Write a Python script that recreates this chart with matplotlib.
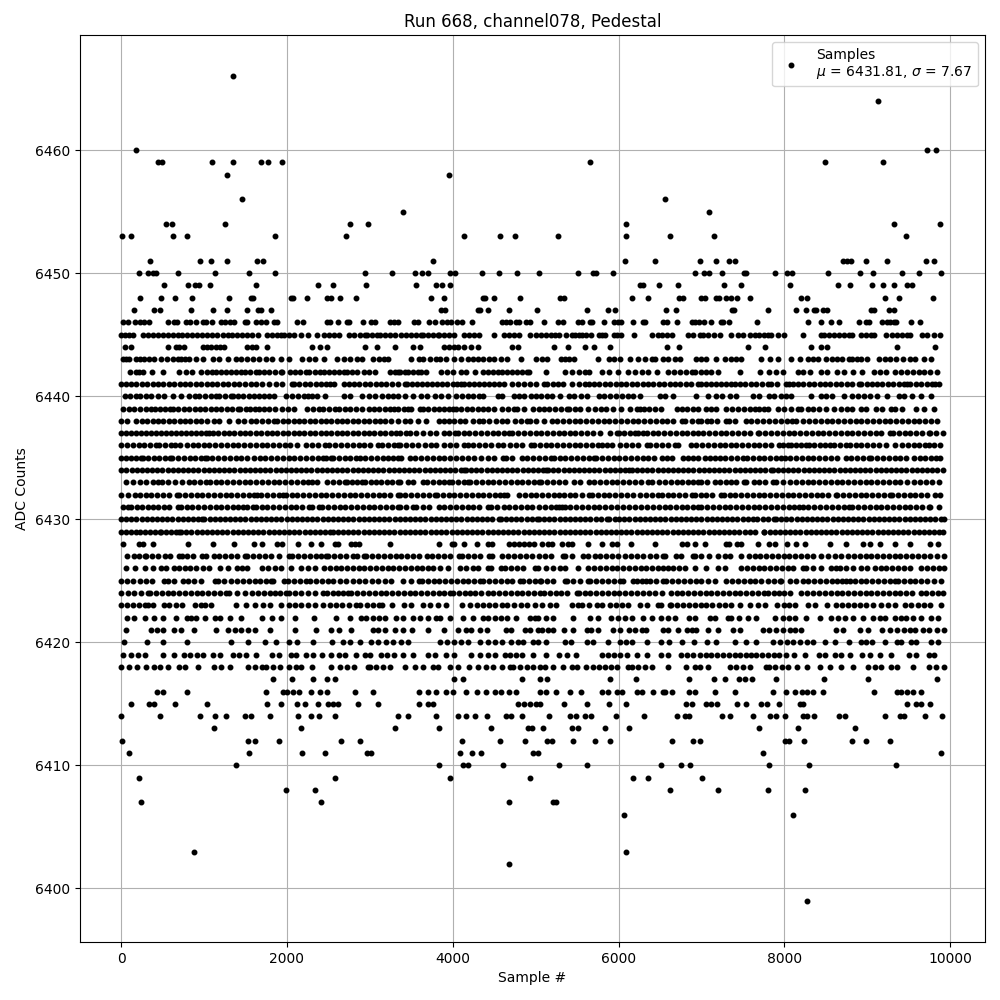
import numpy as np
import matplotlib.pyplot as plt

# sample numbers, one list per ADC level
s6466 = [1350]
s6464 = [9135]
s6460 = [177, 9723, 9831]
s6459 = [440, 490, 1095, 1350, 1685, 1770, 1940, 5650, 8494, 9193]
s6458 = [1275, 3955]
s6456 = [1457, 6566]
s6455 = [3400, 7096]
s6454 = [540, 612, 1250, 2760, 2980, 6084, 9325, 9880]
s6453 = [10, 115, 625, 795, 1855, 2710, 4135, 4570, 4750, 5265, 6084, 6626, 7157, 9470]
s6451 = [345, 950, 1080, 1275, 1640, 1710, 3760, 6072, 6434, 6988, 7181, 7337, 7410, 8710, 8760, 8807, 8988, 9241, 9711, 9807]
s6450 = [213, 322, 382, 415, 684, 1130, 1540, 1855, 2940, 3266, 3545, 3630, 3700, 3966, 4030, 4355, 4560, 4775, 5040, 5506, 5695, 5725, 5928, 6927, 7036, 7096, 7253, 7518, 7540, 7890, 8036, 8096, 8530, 8915, 9072, 9422, 9626, 9892]
s6449 = [515, 805, 890, 938, 1070, 1625, 2375, 2555, 2955, 3555, 3800, 3870, 3966, 6253, 6300, 6482, 6723, 7277, 7482, 8072, 8650, 8795, 9060, 9193, 9325, 9482, 9542]
s6448 = [225, 480, 648, 853, 1300, 1565, 1590, 2050, 2070, 2240, 2480, 2530, 2640, 2830, 3740, 3895, 4365, 4390, 4500, 4810, 5290, 5337, 6168, 6350, 6735, 6783, 7000, 7048, 7170, 7217, 7300, 7360, 7434, 7590, 8205, 8277, 9217, 9385, 9795]
s6447 = [153, 395, 467, 840, 1105, 1275, 1517, 1650, 1685, 1805, 3860, 3905, 4305, 4330, 4425, 4680, 5015, 5615, 5867, 5952, 6578, 6687, 7373, 7397, 7807, 8145, 8265, 8362, 8386, 8470, 8510, 9048, 9084, 9265, 9325]
s6446 = [20, 80, 165, 225, 275, 335, 565, 640, 675, 785, 830, 905, 990, 1025, 1095, 1205, 1250, 1310, 1360, 1490, 1515, 1625, 1685, 1750, 1845, 1880, 2120, 2195, 2485, 2520, 2615, 2725, 2750, 2920, 3015, 3060, 3245, 3295, 3340, 3530, 3580, 3715, 3785, 3870, 3930, 3980, 4055, 4115, 4235, 4595, 4645, 4695, 4765, 4800, 4885, 4935, 5095, 5265, 5335, 5505, 5555, 5650, 5685, 5830, 5950, 5990, 6035, 6170, 6300, 6325, 6540, 6590, 6710, 6890, 6925, 6975, 7035, 7110, 7230, 7265, 7335, 7675, 8290, 8445, 8565, 8665, 8905, 8990, 9025, 9180, 9240, 9280, 9325, 9350, 9530, 9640]
s6445 = [0, 50, 100, 145, 265, 320, 380, 440, 500, 560, 620, 680, 740, 800, 860, 920, 980, 1040, 1100, 1160, 1225, 1285, 1340, 1400, 1460, 1520, 1580, 1655, 1765, 1820, 1880, 1925, 1965, 2030, 2090, 2165, 2250, 2365, 2445, 2505, 2565, 2625, 2745, 2810, 2880, 2945, 2965, 3025, 3085, 3125, 3185, 3245, 3305, 3380, 3440, 3500, 3560, 3620, 3640, 3700, 3760, 3820, 3840, 3900, 3960, 4020, 4140, 4200, 4260, 4320, 4500, 4620, 4680, 4740, 4800, 4930, 5010, 5060, 5120, 5180, 5230, 5280, 5370, 5440, 5480, 5520, 5560, 5610, 5670, 5760, 5800, 5840, 5940, 5985, 6030, 6190, 6400, 6480, 6530, 6590, 6640, 6840, 6900, 6980, 7020, 7080, 7150, 7220, 7360, 7440, 7500, 7580, 7640, 7700, 7760, 7800, 7840, 7920, 8000, 8224, 8440, 8480, 8540, 8600, 8660, 8720, 8780, 8820, 8920, 8980, 9040, 9080, 9220, 9300, 9360, 9420, 9480, 9520, 9660, 9720, 9808, 9880]
s6444 = [44, 124, 565, 656, 704, 764, 984, 1032, 1084, 1144, 1192, 1244, 1524, 1576, 1624, 1764, 2304, 2404, 2484, 2944, 3084, 3304, 3520, 3600, 3900, 3960, 4020, 4060, 4140, 4220, 4300, 4720, 4790, 5224, 5392, 5592, 5704, 5896, 6580, 6728, 7560, 7768, 8320, 8440, 8512, 9360, 9820]
s6443 = [24, 60, 100, 184, 224, 280, 340, 396, 484, 550, 620, 684, 724, 776, 816, 904, 984, 1104, 1176, 1284, 1384, 1444, 1524, 1595, 1664, 1744, 1824, 1924, 2024, 2184, 2264, 2344, 2444, 2604, 2684, 2764, 2844, 2904, 3044, 3110, 3170, 3224, 3500, 3590, 3640, 3720, 3800, 3848, 3920, 4012, 4100, 4180, 4240, 4300, 4360, 4440, 4500, 4580, 4660, 4820, 5000, 5072, 5140, 5300, 5360, 5408, 5468, 5752, 5880, 5940, 6020, 6140, 6232, 6320, 6400, 6440, 6532, 6600, 6680, 6740, 6940, 7000, 7060, 7180, 7280, 7352, 7420, 7480, 7720, 7832, 7928, 8080, 8192, 8288, 8340, 8400, 8500, 8580, 8640, 8700, 8780, 8820, 8880, 8920, 9000, 9140, 9208, 9280, 9352, 9432, 9520, 9580, 9688, 9772]
s6442 = [104, 176, 220, 264, 372, 504, 704, 780, 856, 964, 1030, 1096, 1144, 1200, 1260, 1320, 1380, 1440, 1500, 1560, 1624, 1664, 1724, 1784, 1850, 1924, 1944, 2032, 2095, 2160, 2224, 2264, 2335, 2404, 2444, 2505, 2565, 2625, 2684, 2724, 2784, 2844, 2924, 2992, 3064, 3244, 3300, 3344, 3360, 3420, 3460, 3520, 3580, 3620, 3680, 3860, 3930, 4000, 4100, 4160, 4268, 4360, 4420, 4480, 4540, 4600, 4660, 4720, 4780, 4840, 4900, 4920, 5120, 5360, 5440, 5520, 5592, 5648, 5800, 5880, 5992, 6112, 6200, 6280, 6360, 6460, 6600, 6670, 6740, 6810, 6880, 6920, 7000, 7060, 7120, 7200, 7468, 7712, 7820, 7900, 7980, 8160, 8220, 8308, 8448, 8520, 8640, 8720, 8832, 8932, 9080, 9150, 9220, 9340, 9410, 9480, 9550, 9620, 9690, 9760, 9840]
s6441 = [0, 60, 124, 184, 250, 315, 380, 445, 510, 575, 640, 705, 770, 835, 900, 965, 1030, 1095, 1160, 1225, 1290, 1364, 1424, 1495, 1565, 1632, 1704, 1780, 1864, 1936, 2056, 2084, 2150, 2215, 2280, 2345, 2410, 2470, 2524, 2564, 2684, 2744, 2810, 2875, 2940, 3005, 3070, 3135, 3200, 3265, 3344, 3420, 3448, 3510, 3570, 3630, 3690, 3750, 3810, 3870, 3930, 4000, 4048, 4100, 4140, 4200, 4260, 4320, 4380, 4440, 4500, 4560, 4620, 4712, 4792, 4860, 4930, 5000, 5100, 5132, 5208, 5270, 5330, 5440, 5520, 5600, 5640, 5705, 5770, 5835, 5900, 5965, 6030, 6095, 6160, 6225, 6290, 6355, 6420, 6485, 6550, 6615, 6680, 6745, 6810, 6875, 6960, 7000, 7060, 7120, 7180, 7240, 7300, 7360, 7400, 7465, 7530, 7600, 7660, 7730, 7800, 7840, 7910, 8020, 8060, 8100, 8165, 8230, 8295, 8360, 8425, 8490, 8555, 8620, 8685, 8750, 8820, 8900, 8928, 8995, 9060, 9120, 9180, 9248, 9310, 9380, 9440, 9480, 9520, 9585, 9650, 9720, 9780, 9820, 9860]
s6440 = [44, 110, 184, 224, 295, 365, 440, 512, 624, 724, 824, 896, 944, 1010, 1080, 1144, 1184, 1255, 1324, 1344, 1410, 1475, 1540, 1604, 1664, 1725, 1784, 1844, 1992, 2060, 2130, 2200, 2250, 2304, 2364, 2464, 2684, 2764, 2904, 2992, 3064, 3145, 3224, 3284, 3344, 3430, 3520, 3620, 3692, 3780, 3860, 3948, 4040, 4110, 4180, 4250, 4320, 4360, 4540, 4600, 4740, 4800, 4860, 4940, 5000, 5070, 5140, 5200, 5288, 5400, 5460, 5552, 5620, 5760, 5830, 5900, 5970, 6040, 6110, 6180, 6260, 6500, 6560, 6652, 6940, 7080, 7180, 7250, 7340, 7420, 7620, 7700, 7820, 7880, 7960, 8020, 8080, 8320, 8440, 8500, 8580, 8720, 8820, 8890, 8960, 9030, 9120, 9240, 9380, 9440, 9540, 9652, 9772]
s6439 = [24, 96, 160, 225, 295, 364, 404, 465, 525, 584, 624, 690, 755, 820, 885, 950, 1015, 1080, 1145, 1210, 1275, 1340, 1404, 1432, 1504, 1552, 1610, 1664, 1724, 1784, 1860, 1935, 2010, 2084, 2244, 2315, 2384, 2432, 2510, 2584, 2624, 2695, 2765, 2835, 2904, 2984, 3050, 3115, 3184, 3244, 3295, 3344, 3410, 3460, 3500, 3600, 3640, 3705, 3770, 3835, 3900, 3960, 4000, 4040, 4105, 4170, 4235, 4300, 4365, 4430, 4500, 4592, 4665, 4740, 4780, 4860, 4968, 5035, 5100, 5165, 5230, 5300, 5380, 5400, 5470, 5540, 5632, 5720, 5785, 5850, 5930, 6032, 6140, 6220, 6260, 6312, 6368, 6440, 6512, 6700, 6760, 6830, 6900, 6960, 7060, 7120, 7180, 7300, 7370, 7440, 7510, 7580, 7640, 7700, 7752, 7808, 7920, 8000, 8080, 8160, 8200, 8280, 8350, 8420, 8500, 8600, 8680, 8750, 8820, 8920, 8988, 9100, 9180, 9288, 9340, 9420, 9592, 9680, 9800]
s6438 = [4, 76, 184, 250, 315, 380, 445, 510, 575, 640, 705, 770, 835, 900, 965, 1030, 1124, 1184, 1304, 1404, 1480, 1564, 1632, 1700, 1770, 1844, 1884, 1950, 2015, 2080, 2145, 2210, 2275, 2340, 2405, 2470, 2535, 2600, 2665, 2730, 2795, 2860, 2925, 2990, 3060, 3124, 3184, 3260, 3344, 3420, 3480, 3580, 3680, 3840, 3900, 3952, 4020, 4085, 4150, 4240, 4312, 4368, 4440, 4520, 4590, 4660, 4748, 4820, 4900, 4928, 5000, 5100, 5192, 5260, 5330, 5400, 5470, 5540, 5610, 5680, 5750, 5820, 5890, 5960, 6030, 6100, 6170, 6240, 6310, 6380, 6450, 6520, 6590, 6660, 6760, 6800, 6880, 6960, 7000, 7072, 7120, 7190, 7300, 7328, 7400, 7540, 7600, 7670, 7740, 7820, 7890, 7960, 8032, 8090, 8140, 8220, 8300, 8370, 8440, 8512, 8580, 8650, 8720, 8790, 8860, 8930, 9000, 9070, 9140, 9210, 9280, 9350, 9420, 9490, 9560, 9630, 9700, 9770, 9840]
s6437 = [0, 60, 120, 180, 240, 300, 360, 420, 480, 540, 600, 660, 720, 780, 840, 900, 960, 1020, 1064, 1104, 1170, 1235, 1300, 1365, 1430, 1495, 1560, 1625, 1690, 1755, 1820, 1885, 1950, 2015, 2080, 2145, 2210, 2275, 2340, 2405, 2470, 2535, 2600, 2665, 2730, 2795, 2860, 2925, 2990, 3055, 3120, 3185, 3250, 3315, 3360, 3440, 3480, 3560, 3640, 3720, 3800, 3900, 3960, 4032, 4060, 4130, 4200, 4270, 4340, 4410, 4480, 4550, 4620, 4680, 4720, 4790, 4860, 4930, 5000, 5070, 5140, 5210, 5280, 5340, 5410, 5480, 5550, 5620, 5690, 5780, 5900, 5980, 6000, 6070, 6140, 6200, 6240, 6300, 6340, 6410, 6480, 6550, 6620, 6690, 6760, 6830, 6900, 6960, 7020, 7090, 7160, 7230, 7300, 7370, 7440, 7510, 7580, 7680, 7700, 7770, 7840, 7910, 7980, 8050, 8120, 8190, 8260, 8330, 8400, 8470, 8540, 8610, 8680, 8750, 8820, 8890, 8960, 9030, 9100, 9170, 9280, 9312, 9380, 9450, 9520, 9590, 9660, 9740, 9760, 9830, 9915]
s6436 = [0, 70, 140, 210, 280, 350, 416, 456, 530, 604, 644, 715, 790, 864, 924, 995, 1065, 1135, 1205, 1275, 1345, 1415, 1485, 1555, 1625, 1695, 1765, 1835, 1905, 1975, 2032, 2124, 2224, 2300, 2380, 2464, 2512, 2585, 2655, 2725, 2795, 2865, 2935, 3005, 3104, 3152, 3220, 3290, 3344, 3360, 3435, 3510, 3585, 3660, 3740, 3792, 3900, 3970, 4040, 4140, 4180, 4250, 4320, 4390, 4460, 4540, 4608, 4692, 4760, 4840, 4940, 4980, 5050, 5120, 5190, 5260, 5330, 5400, 5470, 5540, 5610, 5680, 5750, 5800, 5860, 5920, 6020, 6090, 6160, 6230, 6340, 6380, 6450, 6520, 6600, 6680, 6720, 6872, 6940, 7010, 7080, 7150, 7220, 7290, 7352, 7420, 7490, 7560, 7630, 7700, 7770, 7840, 7940, 7980, 8040, 8080, 8140, 8200, 8260, 8292, 8360, 8430, 8490, 8552, 8600, 8670, 8740, 8792, 8868, 8928, 9000, 9070, 9140, 9220, 9340, 9420, 9490, 9560, 9630, 9700, 9740, 9810, 9880]
s6435 = [0, 60, 120, 180, 244, 264, 330, 395, 460, 525, 584, 616, 685, 755, 825, 895, 960, 1016, 1032, 1100, 1170, 1240, 1310, 1380, 1450, 1520, 1604, 1672, 1740, 1810, 1880, 1950, 2020, 2090, 2160, 2230, 2300, 2370, 2440, 2470, 2536, 2556, 2625, 2695, 2765, 2830, 2884, 2944, 3015, 3085, 3155, 3225, 3285, 3344, 3380, 3480, 3550, 3620, 3690, 3760, 3830, 3900, 3970, 4040, 4110, 4180, 4260, 4340, 4420, 4500, 4608, 4648, 4720, 4832, 4900, 4970, 5040, 5110, 5180, 5220, 5290, 5360, 5430, 5500, 5570, 5640, 5700, 5728, 5800, 5870, 5940, 6010, 6080, 6150, 6220, 6290, 6360, 6430, 6520, 6580, 6650, 6780, 6840, 6900, 6960, 7040, 7100, 7160, 7220, 7290, 7360, 7430, 7500, 7552, 7620, 7690, 7760, 7830, 7900, 7960, 8008, 8072, 8140, 8210, 8280, 8350, 8420, 8490, 8560, 8632, 8740, 8808, 8880, 8950, 9020, 9048, 9120, 9190, 9260, 9330, 9400, 9470, 9568, 9632, 9700, 9770, 9830, 9880]
s6434 = [4, 64, 126, 188, 250, 312, 374, 436, 498, 560, 622, 684, 746, 808, 870, 932, 994, 1056, 1118, 1180, 1242, 1304, 1366, 1428, 1490, 1552, 1614, 1676, 1738, 1800, 1862, 1924, 1986, 2048, 2110, 2172, 2234, 2296, 2358, 2420, 2482, 2544, 2606, 2668, 2730, 2792, 2854, 2916, 2978, 3040, 3102, 3164, 3226, 3288, 3350, 3412, 3474, 3536, 3598, 3660, 3722, 3784, 3846, 3908, 3970, 4032, 4094, 4140, 4160, 4222, 4284, 4346, 4408, 4470, 4532, 4594, 4656, 4718, 4780, 4842, 4904, 4966, 5028, 5090, 5120, 5150, 5212, 5274, 5336, 5398, 5460, 5522, 5584, 5646, 5708, 5770, 5832, 5894, 5956, 6018, 6080, 6120, 6160, 6222, 6284, 6346, 6408, 6470, 6532, 6594, 6656, 6718, 6780, 6842, 6904, 6966, 7028, 7090, 7152, 7214, 7276, 7338, 7400, 7462, 7524, 7586, 7648, 7710, 7772, 7840, 7860, 7922, 7984, 8046, 8108, 8170, 8232, 8294, 8356, 8418, 8480, 8542, 8604, 8666, 8728, 8790, 8852, 8914, 8976, 9038, 9100, 9162, 9224, 9286, 9348, 9410, 9472, 9534, 9596, 9658, 9720, 9782, 9844, 9915]
s6433 = [64, 145, 225, 304, 384, 440, 496, 564, 650, 735, 824, 884, 955, 1024, 1072, 1140, 1210, 1280, 1350, 1420, 1490, 1560, 1630, 1700, 1770, 1840, 1910, 1980, 2050, 2120, 2190, 2250, 2304, 2364, 2484, 2555, 2625, 2696, 2724, 2785, 2845, 2904, 2944, 3010, 3075, 3140, 3205, 3270, 3344, 3360, 3460, 3520, 3640, 3688, 3760, 3830, 3900, 3960, 3992, 4060, 4130, 4180, 4208, 4280, 4350, 4420, 4490, 4560, 4630, 4700, 4770, 4840, 4910, 4980, 5040, 5068, 5140, 5210, 5280, 5360, 5460, 5540, 5648, 5704, 5775, 5845, 5915, 5985, 6055, 6125, 6200, 6270, 6352, 6400, 6492, 6560, 6630, 6700, 6770, 6840, 6900, 6960, 7000, 7070, 7160, 7220, 7300, 7352, 7420, 7512, 7540, 7632, 7700, 7770, 7860, 7900, 7980, 8072, 8140, 8210, 8280, 8350, 8420, 8490, 8560, 8630, 8700, 8770, 8840, 8910, 8980, 9050, 9120, 9190, 9260, 9330, 9400, 9480, 9568, 9640, 9710, 9780, 9860]
s6432 = [4, 80, 164, 224, 296, 365, 435, 505, 575, 672, 704, 770, 840, 910, 980, 1050, 1120, 1190, 1260, 1330, 1400, 1470, 1540, 1600, 1644, 1684, 1760, 1830, 1900, 1952, 1984, 2055, 2125, 2195, 2265, 2335, 2405, 2475, 2545, 2615, 2685, 2755, 2825, 2895, 2965, 3035, 3105, 3175, 3245, 3344, 3360, 3430, 3500, 3570, 3640, 3710, 3780, 3808, 3880, 3950, 4020, 4090, 4160, 4230, 4300, 4370, 4440, 4510, 4570, 4620, 4660, 4800, 4872, 4940, 5010, 5080, 5150, 5220, 5280, 5340, 5410, 5480, 5560, 5640, 5680, 5750, 5820, 5890, 5960, 6030, 6100, 6180, 6260, 6330, 6400, 6470, 6530, 6600, 6660, 6730, 6800, 6880, 6920, 6990, 7060, 7130, 7240, 7272, 7340, 7410, 7480, 7550, 7620, 7690, 7760, 7830, 7900, 7970, 8040, 8110, 8180, 8250, 8320, 8390, 8460, 8530, 8620, 8640, 8710, 8780, 8850, 8920, 8990, 9060, 9130, 9200, 9280, 9300, 9370, 9440, 9510, 9580, 9650, 9720, 9820, 9880]
s6431 = [24, 84, 124, 190, 255, 320, 385, 450, 515, 580, 684, 724, 790, 860, 924, 1004, 1070, 1140, 1210, 1280, 1350, 1410, 1464, 1524, 1592, 1624, 1695, 1765, 1835, 1905, 1975, 2045, 2115, 2185, 2264, 2304, 2384, 2424, 2495, 2565, 2635, 2705, 2775, 2845, 2915, 2985, 3055, 3125, 3195, 3265, 3344, 3360, 3440, 3520, 3560, 3640, 3710, 3840, 3900, 3970, 4040, 4110, 4180, 4250, 4320, 4420, 4460, 4530, 4620, 4680, 4750, 4820, 4890, 4960, 5040, 5110, 5180, 5240, 5280, 5320, 5352, 5420, 5490, 5560, 5630, 5700, 5770, 5840, 5910, 5980, 6050, 6120, 6200, 6270, 6340, 6420, 6490, 6560, 6620, 6690, 6760, 6830, 6900, 6960, 7000, 7070, 7140, 7210, 7280, 7350, 7420, 7490, 7560, 7630, 7700, 7770, 7840, 7910, 7980, 8050, 8120, 8180, 8220, 8290, 8360, 8430, 8500, 8580, 8650, 8720, 8780, 8820, 8890, 8960, 9030, 9100, 9170, 9240, 9310, 9380, 9450, 9520, 9590, 9660, 9740, 9760, 9860]
s6430 = [0, 60, 122, 184, 246, 308, 370, 432, 494, 556, 618, 680, 742, 804, 866, 928, 976, 1004, 1066, 1128, 1190, 1252, 1314, 1376, 1438, 1500, 1562, 1624, 1686, 1748, 1810, 1872, 1934, 1996, 2058, 2120, 2182, 2244, 2306, 2368, 2430, 2492, 2554, 2616, 2678, 2740, 2802, 2864, 2926, 2988, 3050, 3112, 3174, 3236, 3298, 3360, 3422, 3484, 3546, 3608, 3670, 3732, 3794, 3856, 3918, 3980, 4042, 4104, 4166, 4228, 4290, 4352, 4414, 4476, 4552, 4580, 4642, 4704, 4766, 4828, 4890, 4952, 5012, 5040, 5102, 5164, 5226, 5288, 5350, 5412, 5474, 5536, 5598, 5660, 5722, 5784, 5860, 5888, 5960, 6008, 6070, 6132, 6194, 6256, 6318, 6380, 6442, 6504, 6566, 6628, 6690, 6752, 6814, 6876, 6938, 7000, 7062, 7124, 7186, 7248, 7310, 7372, 7434, 7496, 7558, 7620, 7672, 7740, 7800, 7880, 7900, 7962, 8024, 8086, 8148, 8210, 8272, 8334, 8396, 8458, 8520, 8582, 8644, 8706, 8768, 8830, 8892, 8954, 9016, 9078, 9140, 9202, 9264, 9326, 9388, 9450, 9512, 9574, 9636, 9698, 9760, 9822, 9884, 9920]
s6429 = [0, 58, 116, 174, 232, 290, 348, 406, 464, 484, 544, 604, 664, 704, 724, 786, 848, 910, 972, 1034, 1096, 1158, 1220, 1282, 1344, 1406, 1468, 1530, 1592, 1654, 1716, 1778, 1840, 1902, 1964, 2026, 2088, 2150, 2212, 2274, 2336, 2398, 2460, 2524, 2552, 2614, 2676, 2738, 2800, 2862, 2924, 2986, 3048, 3110, 3172, 3234, 3296, 3360, 3422, 3484, 3546, 3608, 3670, 3740, 3800, 3862, 3924, 3986, 4048, 4110, 4172, 4234, 4296, 4358, 4420, 4482, 4544, 4606, 4668, 4730, 4792, 4854, 4916, 4978, 5040, 5102, 5164, 5226, 5288, 5350, 5412, 5474, 5536, 5598, 5660, 5722, 5784, 5846, 5908, 5970, 6032, 6094, 6156, 6218, 6280, 6342, 6404, 6466, 6528, 6590, 6652, 6714, 6776, 6838, 6900, 6962, 7024, 7086, 7148, 7210, 7272, 7334, 7396, 7458, 7520, 7582, 7644, 7752, 7760, 7822, 7884, 7946, 8008, 8070, 8132, 8194, 8256, 8318, 8380, 8442, 8504, 8566, 8628, 8690, 8752, 8814, 8876, 8938, 9000, 9062, 9124, 9186, 9248, 9310, 9372, 9434, 9496, 9558, 9620, 9682, 9744, 9806, 9868, 9915]
s6428 = [20, 213, 262, 382, 805, 1107, 1356, 1601, 1698, 1880, 1944, 2133, 2290, 2410, 2580, 2616, 2773, 2822, 2870, 3243, 3835, 3992, 4016, 4137, 4294, 4427, 4475, 4680, 4740, 4800, 4860, 4920, 4985, 5072, 5145, 5193, 5313, 5385, 5434, 5635, 5795, 5916, 5976, 6145, 6438, 6760, 6820, 6920, 7048, 7301, 7337, 7434, 7482, 7687, 7820, 7892, 8036, 8145, 8253, 8553, 8747, 8952, 9036, 9157, 9337, 9518, 9759, 9855]
s6427 = [68, 153, 210, 282, 302, 370, 440, 535, 590, 695, 736, 800, 870, 973, 1018, 1115, 1185, 1255, 1325, 1400, 1497, 1517, 1590, 1665, 1739, 1803, 1903, 2024, 2064, 2135, 2205, 2275, 2345, 2410, 2475, 2495, 2565, 2635, 2710, 2797, 2845, 2925, 2958, 3030, 3100, 3170, 3240, 3310, 3380, 3450, 3520, 3590, 3690, 3754, 3825, 3895, 3965, 4076, 4116, 4190, 4260, 4330, 4438, 4478, 4600, 4668, 4740, 4810, 4880, 4960, 5040, 5110, 5180, 5333, 5353, 5440, 5574, 5635, 5710, 5780, 5850, 5920, 5996, 6076, 6150, 6220, 6300, 6380, 6450, 6538, 6566, 6687, 6751, 6900, 6920, 7000, 7090, 7200, 7281, 7350, 7474, 7570, 7640, 7710, 7780, 7850, 7920, 7990, 8060, 8130, 8200, 8270, 8340, 8446, 8526, 8606, 8687, 8767, 8840, 8910, 8980, 9050, 9120, 9190, 9260, 9330, 9400, 9470, 9540, 9610, 9680, 9751, 9840, 9924]
s6426 = [60, 169, 290, 382, 483, 539, 632, 696, 765, 833, 905, 986, 1060, 1195, 1288, 1400, 1460, 1517, 1698, 1770, 1850, 1930, 2052, 2173, 2250, 2342, 2447, 2523, 2588, 2656, 2725, 2795, 2865, 2935, 3005, 3075, 3145, 3215, 3285, 3355, 3425, 3495, 3565, 3635, 3700, 3760, 3850, 3943, 4084, 4160, 4245, 4306, 4425, 4467, 4587, 4628, 4700, 4770, 4850, 4990, 5030, 5120, 5213, 5290, 5360, 5514, 5635, 5705, 5775, 5845, 5915, 5985, 6055, 6125, 6195, 6265, 6335, 6405, 6475, 6535, 6600, 6658, 6727, 6800, 6928, 7060, 7200, 7289, 7482, 7550, 7620, 7690, 7760, 7830, 7900, 7970, 8040, 8110, 8225, 8265, 8350, 8446, 8566, 8626, 8667, 8740, 8830, 8920, 9000, 9088, 9169, 9229, 9300, 9370, 9440, 9510, 9650, 9720, 9790, 9860, 9924]
s6425 = [0, 70, 141, 229, 302, 370, 523, 563, 640, 744, 805, 880, 960, 1127, 1167, 1235, 1328, 1400, 1470, 1540, 1610, 1680, 1750, 1811, 1831, 1960, 2012, 2090, 2160, 2233, 2282, 2350, 2420, 2490, 2560, 2640, 2716, 2797, 2870, 2945, 3020, 3100, 3179, 3259, 3400, 3500, 3593, 3634, 3700, 3770, 3840, 3910, 3980, 4050, 4120, 4190, 4260, 4326, 4366, 4440, 4510, 4580, 4650, 4720, 4809, 4849, 4920, 4990, 5050, 5070, 5140, 5210, 5350, 5374, 5450, 5530, 5635, 5655, 5730, 5800, 5870, 5945, 6016, 6056, 6177, 6217, 6280, 6337, 6377, 6450, 6538, 6578, 6650, 6720, 6790, 6860, 6930, 7000, 7080, 7160, 7301, 7370, 7440, 7510, 7580, 7650, 7720, 7800, 7870, 7944, 7964, 8064, 8145, 8220, 8290, 8360, 8430, 8500, 8570, 8640, 8690, 8747, 8795, 8847, 8920, 8990, 9060, 9130, 9200, 9270, 9329, 9369, 9440, 9510, 9580, 9650, 9720, 9800, 9892]
s6424 = [0, 80, 160, 240, 322, 350, 420, 490, 560, 630, 700, 770, 840, 910, 980, 1050, 1120, 1190, 1260, 1300, 1395, 1489, 1581, 1650, 1720, 1790, 1851, 1920, 1992, 2024, 2093, 2170, 2250, 2340, 2435, 2483, 2550, 2620, 2680, 2736, 2777, 2850, 2920, 2990, 3060, 3130, 3200, 3270, 3340, 3410, 3480, 3550, 3620, 3690, 3760, 3830, 3900, 3964, 4004, 4080, 4150, 4210, 4266, 4346, 4420, 4490, 4560, 4630, 4700, 4770, 4840, 4910, 4980, 5050, 5100, 5170, 5240, 5310, 5380, 5494, 5522, 5590, 5660, 5730, 5800, 5870, 5940, 6010, 6080, 6150, 6220, 6297, 6370, 6440, 6530, 6630, 6700, 6770, 6840, 6910, 6980, 7050, 7120, 7190, 7260, 7330, 7400, 7470, 7540, 7610, 7680, 7750, 7800, 7870, 7940, 7996, 8072, 8205, 8277, 8350, 8420, 8490, 8560, 8630, 8700, 8770, 8840, 8910, 8980, 9050, 9120, 9190, 9260, 9330, 9400, 9470, 9540, 9650, 9703, 9780, 9850, 9912]
s6423 = [0, 70, 140, 210, 282, 322, 390, 523, 575, 660, 736, 885, 965, 1006, 1086, 1380, 1509, 1610, 1710, 1799, 1932, 2024, 2100, 2173, 2253, 2340, 2430, 2523, 2596, 2670, 2750, 2829, 2877, 2960, 3040, 3111, 3151, 3271, 3408, 3500, 3642, 3730, 3820, 3924, 4117, 4213, 4290, 4360, 4440, 4510, 4590, 4660, 4740, 4820, 4900, 4990, 5072, 5173, 5250, 5434, 5506, 5554, 5640, 5735, 5795, 5896, 5970, 6040, 6116, 6257, 6340, 6478, 6510, 6618, 6638, 6710, 6780, 6850, 6920, 6990, 7060, 7130, 7210, 7281, 7353, 7462, 7583, 7683, 7771, 7916, 7990, 8060, 8130, 8285, 8373, 8510, 8627, 8700, 8770, 8840, 8910, 8980, 9068, 9169, 9249, 9329, 9450, 9530, 9610, 9680, 9760, 9892]
s6422 = [68, 161, 282, 394, 511, 656, 793, 837, 905, 1006, 1127, 1195, 1316, 1445, 1698, 1819, 1932, 2092, 2326, 2588, 2757, 2897, 2958, 3038, 3110, 3180, 3320, 3400, 3521, 3601, 3700, 3795, 3843, 3964, 4125, 4245, 4366, 4427, 4507, 4588, 4656, 4769, 4930, 4990, 5032, 5125, 5213, 5454, 5655, 5755, 5908, 5996, 6080, 6160, 6297, 6398, 6518, 6600, 6680, 6847, 6920, 7100, 7160, 7321, 7353, 7450, 7560, 7661, 7892, 7984, 8060, 8130, 8265, 8426, 8559, 8647, 8727, 8827, 8948, 9068, 9149, 9209, 9330, 9410, 9470, 9550, 9650, 9771, 9851]
s6421 = [60, 362, 430, 500, 632, 724, 877, 1139, 1288, 1368, 1449, 1530, 1610, 1790, 2092, 2354, 2527, 2624, 2769, 3038, 3098, 3187, 3300, 3400, 3509, 3702, 3895, 4064, 4165, 4225, 4326, 4414, 4640, 4708, 4870, 4930, 5032, 5072, 5145, 5213, 5345, 5454, 5615, 5667, 5747, 5936, 6016, 6124, 6197, 6280, 6337, 6538, 6598, 6719, 6820, 6880, 6940, 7080, 7200, 7381, 7462, 7743, 7820, 7900, 7980, 8064, 8132, 8205, 8626, 8707, 8908, 9008, 9177, 9269, 9361, 9440, 9510, 9570, 9671, 9750, 9840, 9924]
s6420 = [40, 310, 511, 793, 1324, 1529, 1734, 1863, 2024, 2121, 2314, 2547, 2676, 2760, 2877, 3010, 3098, 3190, 3280, 3370, 3461, 3843, 3930, 4020, 4104, 4185, 4326, 4427, 4507, 4600, 4700, 4789, 4849, 4970, 5032, 5120, 5353, 5425, 5615, 5695, 5867, 6016, 6084, 6157, 6345, 6518, 6614, 6771, 6912, 7072, 7181, 7405, 7542, 7663, 7863, 7950, 8030, 8110, 8190, 8270, 8345, 8494, 8615, 8775, 8928, 8988, 9060, 9209, 9361, 9409, 9522, 9590, 9770, 9851]
s6419 = [28, 115, 200, 282, 511, 636, 757, 825, 913, 986, 1107, 1187, 1348, 1421, 1509, 1630, 1819, 1900, 2052, 2109, 2225, 2314, 2427, 2530, 2628, 2696, 2837, 2946, 3006, 3139, 3207, 3288, 3400, 3521, 3702, 3790, 3924, 4016, 4225, 4326, 4420, 4510, 4628, 4688, 4760, 4830, 4970, 5120, 5280, 5373, 5482, 5795, 5870, 5950, 6020, 6100, 6217, 6349, 6518, 6600, 6751, 6820, 6900, 6980, 7050, 7120, 7190, 7260, 7330, 7400, 7470, 7542, 7594, 7660, 7730, 7800, 7870, 7940, 8020, 8116, 8245, 8414, 8494, 8614, 8679, 8787, 8940, 9036, 9149, 9289, 9498, 9590, 9739, 9799]
s6418 = [0, 92, 193, 302, 402, 463, 563, 704, 776, 925, 1115, 1200, 1316, 1529, 1610, 1702, 1742, 1830, 1911, 2024, 2113, 2173, 2302, 2535, 2644, 2730, 2810, 2978, 3000, 3080, 3160, 3240, 3420, 3541, 3640, 3762, 3823, 3964, 4064, 4197, 4306, 4400, 4490, 4590, 4688, 4728, 4810, 4890, 4970, 5050, 5112, 5213, 5330, 5434, 5494, 5602, 5695, 5770, 5840, 5910, 5980, 6116, 6157, 6240, 6320, 6400, 6598, 6819, 6920, 6980, 7080, 7341, 7420, 7500, 7580, 7783, 7811, 7892, 7970, 8040, 8157, 8277, 8426, 8546, 8679, 8827, 9008, 9090, 9170, 9289, 9361, 9550, 9750, 9831, 9924]
s6417 = [1831, 2060, 2314, 2483, 2575, 4016, 4125, 4833, 5050, 5132, 5892, 6205, 6855, 7157, 7289, 7458, 7530, 7615, 7903, 8482, 9012, 9843]
s6416 = [430, 503, 793, 1746, 1952, 2000, 2072, 2145, 2290, 2394, 2483, 2821, 3038, 3593, 3702, 3799, 3924, 4004, 4161, 4294, 4403, 4511, 4583, 4680, 4760, 5050, 5120, 5241, 5414, 5542, 5795, 5875, 5976, 6036, 6217, 6277, 6418, 6538, 6566, 6650, 6847, 6920, 7169, 7410, 7867, 8024, 8133, 8217, 8277, 8345, 8470, 9084, 9361, 9410, 9482, 9554, 9650]
s6415 = [117, 334, 402, 648, 1034, 1758, 1928, 2120, 2213, 2370, 2491, 2555, 2616, 2857, 3098, 3593, 3702, 3762, 4789, 4860, 4930, 5000, 5050, 5345, 5615, 5880, 6084, 6819, 6880, 7060, 7112, 7193, 7434, 7542, 7723, 7795, 7940, 8185, 8225, 9482, 9590, 9650, 9759]
s6414 = [0, 467, 950, 1130, 1264, 1493, 1565, 1795, 2133, 2290, 2386, 2580, 3340, 3460, 3799, 4064, 4165, 4270, 4415, 4644, 4708, 4837, 5157, 5410, 5482, 5590, 5663, 5964, 6301, 6710, 6807, 6855, 7253, 7349, 7627, 7831, 7904, 8012, 8229, 8277, 8358, 8663, 8735, 9217, 9390, 9442, 9691, 9904]
s6413 = [1119, 2169, 3304, 3835, 4463, 4909, 4958, 5084, 5434, 5506, 5831, 6120, 7699, 8169, 8855]
s6412 = [8, 1529, 1614, 1903, 2652, 2881, 4112, 4571, 4873, 5133, 5193, 5446, 5711, 5892, 6639, 6904, 6988, 8012, 8060, 8241, 8819, 8988, 9277]
s6411 = [93, 1541, 2181, 2459, 2966, 3014, 4088, 4233, 4342, 4970, 5030, 7747, 9892]
s6410 = [1384, 3835, 4125, 4185, 4607, 5277, 5615, 6506, 6759, 6867, 7819, 8301, 9349]
s6409 = [213, 2580, 3968, 4934, 6169, 6361, 7012]
s6408 = [1988, 2338, 6626, 7205, 7807, 8253]
s6407 = [237, 2410, 4680, 5205, 5241]
s6406 = [6060, 8108]
s6403 = [880, 6084]
s6402 = [4675]
s6399 = [8277]

rows = {6466: s6466, 6464: s6464, 6460: s6460, 6459: s6459, 6458: s6458, 6456: s6456,
        6455: s6455, 6454: s6454, 6453: s6453, 6451: s6451, 6450: s6450, 6449: s6449,
        6448: s6448, 6447: s6447, 6446: s6446, 6445: s6445, 6444: s6444, 6443: s6443,
        6442: s6442, 6441: s6441, 6440: s6440, 6439: s6439, 6438: s6438, 6437: s6437,
        6436: s6436, 6435: s6435, 6434: s6434, 6433: s6433, 6432: s6432, 6431: s6431,
        6430: s6430, 6429: s6429, 6428: s6428, 6427: s6427, 6426: s6426, 6425: s6425,
        6424: s6424, 6423: s6423, 6422: s6422, 6421: s6421, 6420: s6420, 6419: s6419,
        6418: s6418, 6417: s6417, 6416: s6416, 6415: s6415, 6414: s6414, 6413: s6413,
        6412: s6412, 6411: s6411, 6410: s6410, 6409: s6409, 6408: s6408, 6407: s6407,
        6406: s6406, 6403: s6403, 6402: s6402, 6399: s6399}

samples = np.concatenate([np.array(v) for v in rows.values()])
counts = np.concatenate([np.full(len(v), k) for k, v in rows.items()])

plt.figure(figsize=(10, 10))
plt.plot(samples, counts, 'k.', ms=6.5, label='Samples\n$\\mu$ = 6431.81, $\\sigma$ = 7.67')
plt.xlabel('Sample #')
plt.ylabel('ADC Counts')
plt.title('Run 668, channel078, Pedestal')
plt.grid(True)
plt.legend(loc='upper right')
plt.subplots_adjust(left=0.08, right=0.985, top=0.965, bottom=0.058)
plt.savefig('out.png', dpi=100)
